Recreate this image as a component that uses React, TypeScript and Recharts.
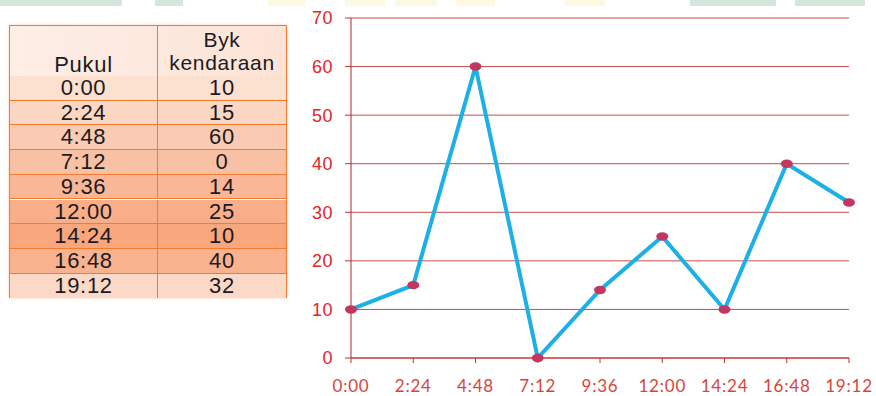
import React from "react";
import { LineChart, Line, XAxis, YAxis, CartesianGrid } from "recharts";

const times = ["0:00", "2:24", "4:48", "7:12", "9:36", "12:00", "14:24", "16:48", "19:12"];
const vehicles = [10, 15, 60, 0, 14, 25, 10, 40, 32];
const yTicks = [0, 10, 20, 30, 40, 50, 60, 70];
const headerCol1 = "Pukul";
const headerCol2 = ["Byk", "kendaraan"];

const data = times.map((t, i) => ({ time: t, value: vehicles[i] }));

const rowColors = [
  "#fce0d0",
  "#fbd6c2",
  "#facbb2",
  "#f9c1a4",
  "#f9b798",
  "#f8ae88",
  "#f8a67b",
  "#f9b28e",
  "#fcd9c7",
];

const Dot = (props: any) => {
  const { cx, cy } = props;
  if (cx == null || cy == null) return null;
  return <ellipse cx={cx} cy={cy} rx={6} ry={4.2} fill="#c2375f" />;
};

const tableFont = {
  fontFamily: "'Liberation Sans', Arial, sans-serif",
  fontSize: 22,
  letterSpacing: 0.7,
  color: "#1c1a22",
};

function Table() {
  const left = 9;
  const top = 25;
  const width = 278;
  const col1 = 148;
  const headerH = 51;
  const rowH = 24.7;
  const border = "1.5px solid #f47a30";
  return (
    <div
      style={{
        position: "absolute",
        left,
        top,
        width,
        height: headerH + rowH * times.length,
        border,
        boxSizing: "border-box",
        boxShadow: "0 0 3px rgba(244,122,48,0.35)",
        ...tableFont,
      }}
    >
      <div
        style={{
          position: "absolute",
          left: 0,
          top: 0,
          width: "100%",
          height: headerH,
          background: "linear-gradient(to right, #fdeee6, #fce3d6)",
          borderBottom: border,
          boxSizing: "border-box",
        }}
      >
        <div
          style={{
            position: "absolute",
            left: 0,
            top: 0,
            width: col1,
            height: headerH,
            borderRight: border,
            boxSizing: "border-box",
            textAlign: "center",
            lineHeight: "22px",
            paddingTop: 28,
          }}
        >
          {headerCol1}
        </div>
        <div
          style={{
            position: "absolute",
            left: col1,
            top: 0,
            right: 0,
            height: headerH,
            textAlign: "center",
            fontSize: 21,
            lineHeight: "22px",
            paddingTop: 4,
          }}
        >
          <div style={{ height: 22, lineHeight: "20px" }}>{headerCol2[0]}</div>
          <div style={{ height: 22, lineHeight: "22px" }}>{headerCol2[1]}</div>
        </div>
      </div>
      {times.map((t, i) => (
        <div
          key={t}
          style={{
            position: "absolute",
            left: 0,
            top: headerH + i * rowH - 1,
            width: "100%",
            height: rowH,
            background: rowColors[i],
            borderBottom: i < times.length - 1 ? border : "none",
            boxSizing: "border-box",
          }}
        >
          <div
            style={{
              position: "absolute",
              left: 0,
              top: 0,
              width: col1,
              height: "100%",
              borderRight: border,
              boxSizing: "border-box",
              textAlign: "center",
              lineHeight: `${rowH}px`,
            }}
          >
            {t}
          </div>
          <div
            style={{
              position: "absolute",
              left: col1,
              top: 0,
              right: 0,
              height: "100%",
              textAlign: "center",
              lineHeight: `${rowH}px`,
            }}
          >
            {vehicles[i]}
          </div>
        </div>
      ))}
    </div>
  );
}

const stripBlocks = [
  { x: 0, w: 122, c: "#d3e7dc" },
  { x: 155, w: 28, c: "#d3e7dc" },
  { x: 268, w: 37, c: "#fdf8df" },
  { x: 345, w: 40, c: "#fdf8df" },
  { x: 395, w: 42, c: "#fdf8df" },
  { x: 456, w: 39, c: "#fdf8df" },
  { x: 565, w: 40, c: "#fdf8df" },
  { x: 690, w: 86, c: "#d3e7dc" },
  { x: 795, w: 70, c: "#d3e7dc" },
];

export default function App() {
  return (
    <div
      style={{
        position: "absolute",
        left: 0,
        top: 0,
        width: 876,
        height: 396,
        background: "#ffffff",
        overflow: "hidden",
      }}
    >
      {stripBlocks.map((b, i) => (
        <div
          key={i}
          style={{ position: "absolute", left: b.x, top: 0, width: b.w, height: 6, background: b.c }}
        />
      ))}
      <Table />
      <div style={{ position: "absolute", left: 0, top: 0 }}>
        <LineChart
          width={876}
          height={396}
          data={data}
          margin={{ top: 18, right: 27, bottom: 8, left: 291 }}
        >
          <CartesianGrid vertical={false} stroke="#c94a4a" strokeWidth={1} />
          <XAxis
            dataKey="time"
            height={30}
            stroke="#c0302e"
            tickSize={5}
            tickMargin={17}
            tickLine={{ stroke: "#c0302e" }}
            tick={{ fill: "#d8453b", fontSize: 17, fontFamily: "Lato, sans-serif", letterSpacing: 0.8 }}
            interval={0}
          />
          <YAxis
            width={60}
            domain={[0, 70]}
            ticks={yTicks}
            stroke="#b5282a"
            tickSize={6}
            tickMargin={12}
            tickLine={{ stroke: "#c0302e" }}
            tick={{ fill: "#e0262a", fontSize: 18, fontFamily: "'Liberation Sans', Arial, sans-serif", letterSpacing: 0.5 }}
            interval={0}
          />
          <Line
            type="linear"
            dataKey="value"
            stroke="#1cb0e6"
            strokeWidth={4}
            dot={<Dot />}
            activeDot={false}
            isAnimationActive={false}
          />
        </LineChart>
      </div>
    </div>
  );
}
